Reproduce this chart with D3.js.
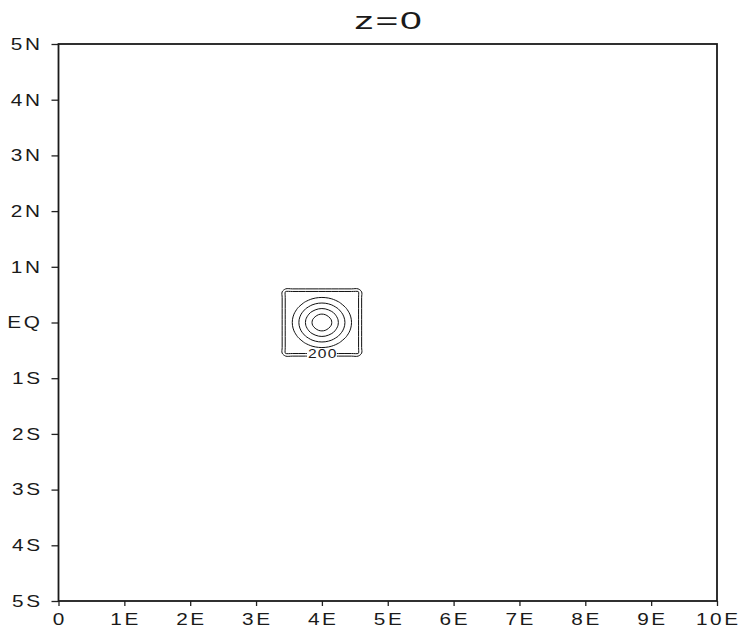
<!DOCTYPE html>
<html>
<head>
<meta charset="utf-8">
<script src="https://cdn.jsdelivr.net/npm/d3@7"></script>
<style>
  body { margin: 0; background: #fff; }
  text { font-family: "Liberation Sans", Arial, sans-serif; fill: #1a1a1a; }
</style>
</head>
<body>
<svg id="chart" width="740" height="630"></svg>
<script>
// ---- data ----
const title = "z=0";

const xTicks = [0, 1, 2, 3, 4, 5, 6, 7, 8, 9, 10];
const xTickLabels = ["0", "1E", "2E", "3E", "4E", "5E", "6E", "7E", "8E", "9E", "10E"];
const yTicks = [-5, -4, -3, -2, -1, 0, 1, 2, 3, 4, 5];
const yTickLabels = ["5S", "4S", "3S", "2S", "1S", "EQ", "1N", "2N", "3N", "4N", "5N"];

// field grid (longitude west->east, latitude north->south)
const gridLon = [3.35, 3.45, 3.55, 3.65, 3.75, 3.85, 3.95, 4.05, 4.15, 4.25, 4.35, 4.45, 4.55, 4.65];
const gridLat = [0.65, 0.55, 0.45, 0.35, 0.25, 0.15, 0.05, -0.05, -0.15, -0.25, -0.35, -0.45, -0.55, -0.65];

const field = [
  [0,   0,   0,   0,   0,   0,   0,   0,   0,   0,   0,   0,   0, 0],
  [0, 215, 215, 215, 215, 215, 215, 215, 215, 215, 215, 215, 215, 0],
  [0, 215, 215, 215, 235, 276, 297, 297, 276, 235, 215, 215, 215, 0],
  [0, 215, 215, 255, 320, 369, 396, 396, 369, 320, 255, 215, 215, 0],
  [0, 215, 235, 320, 396, 458, 495, 495, 458, 396, 320, 235, 215, 0],
  [0, 215, 276, 369, 458, 538, 592, 592, 538, 458, 369, 276, 215, 0],
  [0, 215, 297, 396, 495, 592, 680, 680, 592, 495, 396, 297, 215, 0],
  [0, 215, 297, 396, 495, 592, 680, 680, 592, 495, 396, 297, 215, 0],
  [0, 215, 276, 369, 458, 538, 592, 592, 538, 458, 369, 276, 215, 0],
  [0, 215, 235, 320, 396, 458, 495, 495, 458, 396, 320, 235, 215, 0],
  [0, 215, 215, 255, 320, 369, 396, 396, 369, 320, 255, 215, 215, 0],
  [0, 215, 215, 215, 235, 276, 297, 297, 276, 235, 215, 215, 215, 0],
  [0, 215, 215, 215, 215, 215, 215, 215, 215, 215, 215, 215, 215, 0],
  [0,   0,   0,   0,   0,   0,   0,   0,   0,   0,   0,   0,   0, 0]
];

const levels = [100, 200, 300, 400, 500, 600];
const labelledLevels = [200];

// ---- layout ----
const svg = d3.select("#chart");
const plot = { left: 58.5, right: 717, top: 44, bottom: 601 };

const x = d3.scaleLinear().domain([0, 10]).range([plot.left, plot.right]);
const y = d3.scaleLinear().domain([-5, 5]).range([plot.bottom, plot.top]);

// title
svg.append("text")
  .attr("transform", `translate(${(plot.left + plot.right) / 2 + 1},29) scale(1.7,1)`)
  .attr("text-anchor", "middle")
  .style("font-size", "23px")
  .style("letter-spacing", "1px")
  .text(title);

// ---- contours ----
const nx = gridLon.length, ny = gridLat.length;
const gx = d3.scaleLinear().domain([0.5, nx - 0.5]).range([gridLon[0], gridLon[nx - 1]]);
const gy = d3.scaleLinear().domain([0.5, ny - 0.5]).range([gridLat[0], gridLat[ny - 1]]);

const contours = d3.contours().size([nx, ny]).thresholds(levels)(field.flat());

const ringLine = d3.line().curve(d3.curveCatmullRomClosed.alpha(0.5));
const cg = svg.append("g").attr("class", "contours");
const labelSpots = [];

contours.forEach(c => {
  c.coordinates.forEach(poly => {
    poly.forEach(ring => {
      const pts = ring.slice(0, -1).map(p => [x(gx(p[0])), y(gy(p[1]))]);
      cg.append("path")
        .attr("d", ringLine(pts))
        .attr("fill", "none")
        .attr("stroke", "#111")
        .attr("stroke-width", 1);
      if (labelledLevels.includes(c.value)) {
        // label sits on the southern side of the ring, at its mid longitude
        const lons = ring.map(p => gx(p[0]));
        const midLon = (d3.min(lons) + d3.max(lons)) / 2;
        const south = ring.map(p => [gx(p[0]), gy(p[1])]).filter(p => p[1] < 0);
        const best = d3.least(south, p => Math.abs(p[0] - midLon));
        labelSpots.push({ value: c.value, lon: midLon, lat: best[1] });
      }
    });
  });
});

labelSpots.forEach(s => {
  const lx = x(s.lon), ly = y(s.lat);
  svg.append("rect")
    .attr("x", lx - 15).attr("y", ly - 5.5)
    .attr("width", 30).attr("height", 11)
    .attr("fill", "#fff");
  svg.append("text")
    .attr("transform", `translate(${lx + 0.8},${ly + 4.8}) scale(1.2,1)`)
    .attr("text-anchor", "middle")
    .style("font-size", "13px")
    .style("letter-spacing", "1px")
    .text(s.value);
});

// ---- axes ----
const axisLeft = d3.axisLeft(y).tickValues(yTicks).tickSize(7).tickSizeOuter(0).tickFormat("");
const axisBottom = d3.axisBottom(x).tickValues(xTicks).tickSize(5).tickSizeOuter(0).tickFormat("");

const gL = svg.append("g").attr("transform", `translate(${plot.left},0)`).call(axisLeft);
const gB = svg.append("g").attr("transform", `translate(0,${plot.bottom})`).call(axisBottom);
[gL, gB].forEach(g => {
  g.select(".domain").remove();
  g.selectAll(".tick line").attr("stroke", "#222").attr("stroke-width", 1.3);
});

// frame
svg.append("rect")
  .attr("x", plot.left).attr("y", plot.top)
  .attr("width", plot.right - plot.left).attr("height", plot.bottom - plot.top)
  .attr("fill", "none").attr("stroke", "#1a1a1a").attr("stroke-width", 1.8);

// tick labels
const sx = 1.3, ls = 2;
svg.append("g").selectAll("text").data(yTicks).join("text")
  .attr("transform", v => `translate(${40 + ls * sx},${y(v) + 5.8}) scale(${sx},1)`)
  .attr("text-anchor", "end")
  .style("font-size", "16px")
  .style("letter-spacing", ls + "px")
  .text((v, i) => yTickLabels[i]);

svg.append("g").selectAll("text").data(xTicks).join("text")
  .attr("transform", v => `translate(${x(v) + ls * sx / 2},${624.5}) scale(${sx},1)`)
  .attr("text-anchor", "middle")
  .style("font-size", "16px")
  .style("letter-spacing", ls + "px")
  .text((v, i) => xTickLabels[i]);
</script>
</body>
</html>
